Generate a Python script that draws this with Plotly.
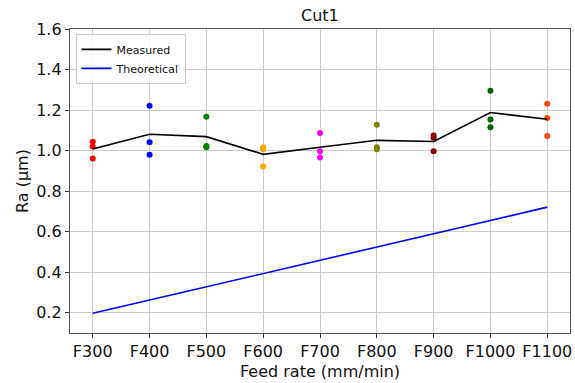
import plotly.graph_objects as go

# Feed rates tested
feed_rates = ["F300", "F400", "F500", "F600", "F700", "F800", "F900", "F1000", "F1100"]

# Three surface roughness measurements per feed rate (µm)
ra_run1 = [1.044, 1.221, 1.167, 1.017, 1.087, 1.128, 1.074, 1.295, 1.231]
ra_run2 = [1.020, 1.041, 1.023, 1.007, 0.997, 1.017, 1.064, 1.154, 1.161]
ra_run3 = [0.961, 0.980, 1.017, 0.921, 0.966, 1.007, 0.997, 1.115, 1.072]

# Theoretical roughness per feed rate (µm)
ra_theoretical = [0.197, 0.262, 0.328, 0.393, 0.459, 0.524, 0.590, 0.655, 0.721]

# Marker colour for each feed rate group
point_colors = ["red", "blue", "green", "orange", "magenta", "olive",
                "darkred", "darkgreen", "orangered"]

ra_measured = [(a + b + c) / 3 for a, b, c in zip(ra_run1, ra_run2, ra_run3)]

FONT = "DejaVu Sans, Liberation Sans, sans-serif"

fig = go.Figure()

for run in (ra_run1, ra_run2, ra_run3):
    fig.add_trace(go.Scatter(
        x=feed_rates, y=run, mode="markers",
        marker=dict(color=point_colors, size=6, line=dict(width=0)),
        showlegend=False, hoverinfo="x+y",
    ))

fig.add_trace(go.Scatter(
    x=feed_rates, y=ra_measured, mode="lines", name="Measured",
    line=dict(color="black", width=1.6),
))
fig.add_trace(go.Scatter(
    x=feed_rates, y=ra_theoretical, mode="lines", name="Theoretical",
    line=dict(color="blue", width=1.6),
))

axis_common = dict(
    showline=True, mirror=True, linecolor="#555555", linewidth=1.3,
    showgrid=True, gridcolor="#cccccc", gridwidth=1,
    ticks="outside", ticklen=4, tickwidth=1, tickcolor="#333333",
    tickfont=dict(family=FONT, size=16, color="#111111"),
    zeroline=False,
)

fig.update_xaxes(type="category", range=[-0.4, 8.4], **axis_common)
fig.update_yaxes(range=[0.1, 1.6], tickvals=[0.2, 0.4, 0.6, 0.8, 1.0, 1.2, 1.4, 1.6],
                 tickformat=".1f", **axis_common)

fig.update_layout(
    width=575, height=383,
    margin=dict(l=69.5, r=2.7, t=29, b=49.7),
    paper_bgcolor="white", plot_bgcolor="white",
    font=dict(family=FONT, color="#111111"),
    showlegend=True,
    legend=dict(
        x=0.011, y=0.984, xanchor="left", yanchor="top",
        bordercolor="#cccccc", borderwidth=1, bgcolor="rgba(255,255,255,0.85)",
        font=dict(family=FONT, size=11, color="#111111"),
        itemwidth=30, tracegroupgap=0,
    ),
    annotations=[
        dict(text="Cut1", xref="paper", yref="paper", x=0.5, y=1, yshift=14,
             xanchor="center", yanchor="middle", showarrow=False,
             font=dict(family=FONT, size=16, color="#111111")),
        dict(text="Feed rate (mm/min)", xref="paper", yref="paper", x=0.5, y=0,
             yshift=-38, xanchor="center", yanchor="middle", showarrow=False,
             font=dict(family=FONT, size=16, color="#111111")),
        dict(text="Ra (μm)", xref="paper", yref="paper", x=0, y=0.5,
             xshift=-48, textangle=-90, xanchor="center", yanchor="middle",
             showarrow=False, font=dict(family=FONT, size=16, color="#111111")),
    ],
)

fig.write_html("out.html")
